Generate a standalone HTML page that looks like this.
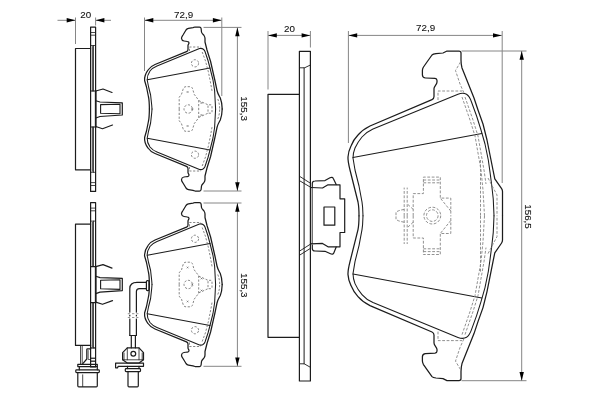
<!DOCTYPE html>
<html><head><meta charset="utf-8"><title>Brake pad drawing</title>
<style>
html,body{margin:0;padding:0;background:#fff;}
body{width:600px;height:400px;overflow:hidden;}
svg{display:block;filter:grayscale(1);}
text{font-family:"Liberation Sans",sans-serif;font-size:9.8px;fill:#111;stroke:#111;stroke-width:0.1px;}
</style></head><body>
<svg width="600" height="400" viewBox="0 0 600 400">
<rect width="600" height="400" fill="#fff"/>
<defs>
<g id="sh" fill="none" stroke="#1c1c1c" stroke-width="1.25" stroke-linejoin="round" stroke-linecap="round">
<path d="M149.4,109 C149.3,103 149,99 148.5,97 L146.5,87 L144.6,80.5 C144.3,77 145,74 148,70 C150,67 152,65.7 155,64.5 L186.5,51.7 C187.7,51.2 188,50.5 188,49.5 L188,45.5 C188,44.3 189,44 189,43 C189,42 188.5,41.5 187.5,41.5 L184,41 C182.5,40.8 181.7,40 181.5,38.5 C181.4,37 182.3,36 183,35 L186,30 C186.8,29 187.5,28.6 188.5,28.4 L193,27.6 L195,27 L199.5,27 C200.6,27 201,27.5 201.1,28.5 L201.5,32 C201.7,33.5 203.3,34.5 204,35.5 C204.7,36.5 205,37 205,38.5 L205,42 L207,50 L210.6,61.5 L214.8,80 L217,90.5 C217.8,94 219.2,96 220.3,98 C221.3,100.5 222,103 222.2,109"/>
<path d="M152,109 L151.7,105 L150.6,95 L148.6,87 L147.2,80 C147,77 148,74 150,71 C152,68.5 154,67.2 157,66 L199.5,48.6 C201,48.2 202,48.3 203,49 C204,49.8 204.6,50.5 205,51.5 L208,60.5 L209.6,66.5 L213,80 L214.6,90.5 L215.6,109" stroke-width="1.05"/>
<path d="M147.3,79.8 L210,68.1" stroke-width="1.05"/>
</g>
<g id="shd" fill="none" stroke="#666666" stroke-width="0.8" stroke-dasharray="2.2 1.6">
<path d="M202.2,52 L205.5,61 L208.4,72 L210.8,84 L212.2,92"/>
<path d="M217.8,99 C219,102 219.6,105 219.7,109"/>
<circle cx="195" cy="63.3" r="3.6"/>
<path d="M189.5,51 L189.5,47 L201,47"/>
<path d="M179.2,109 L179.2,97.3 L181.5,94.3 L183,89.5 C183.5,87.5 184.5,86.7 186,86.7 L190,86.7 C191.5,86.7 192.3,87.5 192.8,89.5 L194.2,94.3 L198.7,100.3 L198.7,109"/>
<path d="M198.7,100.6 L208,104.8"/>
</g>
<g id="spad">
<use href="#sh"/><use href="#sh" transform="translate(0,218) scale(1,-1)"/>
<use href="#shd"/><use href="#shd" transform="translate(0,218) scale(1,-1)"/>
<g fill="none" stroke="#666666" stroke-width="0.8" stroke-dasharray="2.2 1.6">
<circle cx="188.2" cy="109" r="4.2"/>
<rect x="208" y="104.8" width="4" height="8.4" rx="1"/>
</g>
<g stroke="#666666" stroke-width="0.7">
<path d="M186.8,91.2 l1.6,1.6 m0,-1.6 l-1.6,1.6 M186.8,125.2 l1.6,1.6 m0,-1.6 l-1.6,1.6 M200.7,102.2 l1.6,1.6 m0,-1.6 l-1.6,1.6 M200.7,114.2 l1.6,1.6 m0,-1.6 l-1.6,1.6 M191.5,108.2 l1.6,1.6 m0,-1.6 l-1.6,1.6" fill="none"/>
</g>
</g>
<g id="sside" fill="none" stroke="#1c1c1c" stroke-width="1.2" stroke-linejoin="round" stroke-linecap="round">
<path d="M90.6,48.5 L75.5,48.5 L75.5,169.8 L90.6,169.8"/>
<path d="M90.6,27.1 L95.6,27.1 L95.6,191.4 L90.6,191.4 Z"/>
<path d="M90.6,32.5 H95.6 M90.6,35.2 H95.6 M90.6,185.5 H95.6 M90.6,182.6 H95.6 M90.6,45.5 H95.6 M90.6,172.3 H95.6" stroke-width="0.8"/>
<path d="M92.4,46.5 L92.4,91 M93.5,45.5 L93.5,91 M92.4,127 L92.4,171.3 M93.5,127 L93.5,172.3" stroke-width="0.8"/>
<path d="M90.6,91 H95.6 M90.6,127 H95.6" />
<path d="M95.7,91 V127" stroke-width="1.7"/>
<path d="M95.8,91 L103,89 L112,92.5"/>
<path d="M95.8,126.5 L102.5,128.7 L112.5,125"/>
<path d="M95.8,100.7 L100,102 L122.3,102.8 L122.3,115 L100,116.5 L95.8,118"/>
<path d="M100.6,104.6 L120,104.2 L120,113.8 L100.6,113.2 Z" stroke-width="1.1"/>
</g>
</defs>
<use href="#spad"/>
<use href="#spad" transform="translate(0,175.5)"/>
<use href="#sside"/>
<use href="#sside" transform="translate(0,175.6)"/>
<line x1="57.50" y1="20.30" x2="75.50" y2="20.30" stroke="#868686" stroke-width="1.00" />
<polygon points="75.50,20.30 66.70,18.10 66.70,22.50" fill="#000"/>
<line x1="95.60" y1="20.30" x2="111.00" y2="20.30" stroke="#868686" stroke-width="1.00" />
<polygon points="95.60,20.30 104.40,18.10 104.40,22.50" fill="#000"/>
<line x1="75.50" y1="17.50" x2="75.50" y2="44.00" stroke="#868686" stroke-width="1.00" />
<line x1="95.60" y1="17.50" x2="95.60" y2="25.50" stroke="#868686" stroke-width="1.00" />
<text x="85.8" y="17.6" text-anchor="middle">20</text>
<line x1="144.50" y1="20.30" x2="221.70" y2="20.30" stroke="#868686" stroke-width="1.00" />
<polygon points="144.50,20.30 153.30,18.10 153.30,22.50" fill="#000"/>
<polygon points="221.70,20.30 212.90,18.10 212.90,22.50" fill="#000"/>
<line x1="144.50" y1="17.50" x2="144.50" y2="71.00" stroke="#868686" stroke-width="1.00" />
<line x1="221.80" y1="17.50" x2="221.80" y2="96.00" stroke="#868686" stroke-width="1.00" />
<text x="183.6" y="17.8" text-anchor="middle">72,9</text>
<line x1="203.50" y1="27.40" x2="241.50" y2="27.40" stroke="#868686" stroke-width="1.00" />
<line x1="203.50" y1="191.00" x2="241.50" y2="191.00" stroke="#868686" stroke-width="1.00" />
<line x1="237.40" y1="27.40" x2="237.40" y2="191.00" stroke="#868686" stroke-width="1.00" />
<polygon points="237.40,27.40 235.20,36.20 239.60,36.20" fill="#000"/>
<polygon points="237.40,191.00 235.20,182.20 239.60,182.20" fill="#000"/>
<text transform="translate(240.8,108.6) rotate(90)" text-anchor="middle">155,3</text>
<line x1="203.50" y1="203.00" x2="241.50" y2="203.00" stroke="#868686" stroke-width="1.00" />
<line x1="203.50" y1="366.30" x2="241.50" y2="366.30" stroke="#868686" stroke-width="1.00" />
<line x1="237.40" y1="203.00" x2="237.40" y2="366.30" stroke="#868686" stroke-width="1.00" />
<polygon points="237.40,203.00 235.20,211.80 239.60,211.80" fill="#000"/>
<polygon points="237.40,366.30 235.20,357.50 239.60,357.50" fill="#000"/>
<text transform="translate(240.8,285.3) rotate(90)" text-anchor="middle">155,3</text>
<g fill="none" stroke="#1c1c1c" stroke-width="1.2" stroke-linejoin="round" stroke-linecap="round">
<path d="M146.3,282.3 L137,282.3 C132,282.3 129.8,284.5 129.8,288.5 L129.8,335.5"/>
<path d="M146.3,288.6 L139.5,288.6 C137,288.6 136.4,289.5 136.4,291.5 L136.4,335.5"/>
<rect x="146.4" y="280.6" width="2.6" height="10" rx="1"/>
<path d="M129.8,335.5 H136.4"/>
<path d="M131.3,335.5 V347.8 M135.4,335.5 V347.8"/>
<path d="M127.3,347.8 H139 L143.5,352.6 V359.8 L139,363 H127.3 L122.6,359.8 V352.6 Z"/>
<path d="M127.3,347.8 V359.8 M139,347.8 V359.8 M122.6,359.8 H143.5 M124,353 V359.6 M142.2,353 V359.6" stroke-width="0.8"/>
<circle cx="133.3" cy="353.7" r="2.4"/>
<path d="M115.6,363.1 H143.5 V366.3 H118.2 L117.6,367.8 H115.6 Z"/>
<path d="M127.5,366.3 V368.6 M139,366.3 V368.6"/>
<rect x="125.3" y="368.6" width="15.2" height="3" rx="0.8"/>
<path d="M128,371.6 V385.7 Q128,386.8 129,386.8 H137.3 Q138.3,386.8 138.3,385.7 V371.6"/>
</g>
<rect x="127" y="312.6" width="12" height="2.2" fill="#fff"/>
<rect x="127" y="316.4" width="12" height="2.2" fill="#fff"/>
<path d="M127.8,313.7 h2.2 m2,0 h2.4 m2,0 h2 M127.8,317.5 h2.2 m2,0 h2.4 m2,0 h2" stroke="#666666" stroke-width="0.7" fill="none"/>
<g fill="none" stroke="#1c1c1c" stroke-width="1.2" stroke-linejoin="round" stroke-linecap="round">
<path d="M80.5,345.4 V364 M82.2,345.4 V364" stroke-width="0.8"/>
<path d="M90.6,348.8 H87.6 Q86.8,348.8 86.8,349.6 V359 L82.8,363.6"/>
<path d="M88.2,350.5 V359.5 H90.6" stroke-width="0.7"/>
<path d="M90.6,358.3 H95.6 M90.6,361.3 H95.6 M90.6,348 H95.6" stroke-width="0.8"/>
<path d="M77.8,364.3 H97.3 V366.6 H77.8 Z"/>
<path d="M79.3,366.6 V369.8 M97.3,366.6 V369.8"/>
<rect x="75.8" y="369.8" width="23.5" height="2.8" rx="0.8"/>
<path d="M77.8,372.6 V385.7 Q77.8,386.8 78.8,386.8 H96.3 Q97.3,386.8 97.3,385.7 V372.6"/>
<path d="M82.7,374.8 V386.5" stroke-width="0.8"/>
</g>
<g fill="none" stroke="#1c1c1c" stroke-width="1.2" stroke-linejoin="round" stroke-linecap="round">
<path d="M299.4,94.3 H268 V337.3 H299.4"/>
<path d="M299.4,51.3 H310.4 V381 H299.4 Z"/>
<path d="M299.4,67.8 H304.6 L310.4,65 M299.4,363.8 H304.2 L310.4,367.3" stroke-width="0.9"/>
<path d="M304.1,67.8 V363.8" stroke-width="1"/>
<path d="M299.4,176.2 L310.4,183.2 M299.4,180.6 L311,187.5 M299.4,255.3 L310.4,248.4 M299.4,251.2 L311,243.8" stroke-width="0.9"/>
<path d="M311,187.5 L322.5,188 L328,184.8 H340 V198.8 H344.7 V232.5 H340 V246.8 H328 L322.5,243.4 L311,243.8"/>
<path d="M312.3,186.5 V183.5 C312.3,181.5 313,181 315,181 L325,180.6 L330,177.8 C331.5,177 332.8,177.3 333.3,178.5 L336.2,184.5"/>
<path d="M312.3,245 V248.5 C312.3,250.5 313,251 315,251 L325,251.3 L330.5,253.8 C332,254.5 333.3,254.2 333.8,253 L336.2,247"/>
<path d="M312.2,187.5 V243.8" stroke-width="0.9"/>
<rect x="324" y="207" width="10.8" height="18.2" />
</g>
<line x1="268.00" y1="35.40" x2="310.40" y2="35.40" stroke="#868686" stroke-width="1.00" />
<polygon points="268.00,35.40 276.80,33.20 276.80,37.60" fill="#000"/>
<polygon points="310.40,35.40 301.60,33.20 301.60,37.60" fill="#000"/>
<line x1="268.00" y1="31.00" x2="268.00" y2="89.50" stroke="#868686" stroke-width="1.00" />
<line x1="310.40" y1="31.00" x2="310.40" y2="47.50" stroke="#868686" stroke-width="1.00" />
<text x="289.5" y="31.6" text-anchor="middle">20</text>
<defs>
<g id="bh" fill="none" stroke="#1c1c1c" stroke-width="1.25" stroke-linejoin="round" stroke-linecap="round">
<path d="M359,215.8 C359,210 358.6,205 358,202 L354,186 L350,170 C348.5,164 347.8,160 348,157 C348.3,152 349.5,149 351,146 C353,141 355,138 358,135 C361,131.5 365,128.5 370,126 L432,99.6 C433.5,99 434,98 434,96.5 L434,88.5 C434,86 437,84.5 437,82 L437,80.5 C437,79 436.3,78.5 435,78.4 L425.5,78 C423.5,77.9 422.5,76.5 422.4,75 L422.4,70.5 C422.4,69 423,68 423.5,67 L427,62 L432,55 C433,54 434.5,53.8 436,53.6 L443,53 L447,51 L459,51 C460.5,51 461,52 461,53 L461,60 C461,63 461.3,65.5 462,68 L466,78 L474,98 L478,110 L483,124 L487,140 L490.6,158 L493,170 L494.8,178.8 L501.6,188.6 C502.3,189.6 502.5,190.3 502.5,191.5 L502.5,215.8"/>
<path d="M363,215.8 L362.6,207 L362,202 L359,186 L355,170 L353,158 C353,154 353.8,151 355,148 C356.8,144 359,140.5 362,137 C365,133.5 369,130.8 373,129 L458,94.2 C461,93 464,92.8 466.5,94.3 C469,96 470.3,98.5 471.5,102 L476.6,116 L481,130 L485,144 L488.3,160 L490,172 L491.75,185.5 L493.25,199 L494,215.8" stroke-width="1.05"/>
<path d="M353,157.6 L481.8,133.6" stroke-width="1.05"/>
</g>
<g id="bhd" fill="none" stroke="#858585" stroke-width="0.9" stroke-dasharray="2.8 1.6">
<path d="M460.5,62 L455.5,70.5 L460,84 L464,93"/>
<path d="M462,97 L470,120 L475,136 L481,170 L483,190 L484.5,215.8"/>
<path d="M465,97 L473,120 L478,136 L484,170 L486,184"/>
<path d="M480.5,160 L480.5,215.8"/>
<path d="M488,178 L497,195 L497,215.8"/>
<path d="M438,100 L438,91 L462,91"/>
<path d="M413.2,215.8 V238 H423.4 V254.5 H440.3 V233.5 H450.8 V215.8 M423.4,248.8 H440.3 M423.4,251.6 H440.3"/>
<path d="M450.8,220.5 L440.3,233.5"/>
<path d="M404.2,215.8 V244 M407.2,215.8 V244 M413.2,222.2 L407.2,227.8"/>
<path d="M404.2,222.2 C400,221.5 397,220.5 396,219.2 L396,215.8"/>
</g>
</defs>
<use href="#bh"/><use href="#bh" transform="translate(0,431.6) scale(1,-1)"/>
<use href="#bhd" transform="translate(0,431.6) scale(1,-1)"/><use href="#bhd"/>
<g fill="none" stroke="#858585" stroke-width="0.9" stroke-dasharray="2.8 1.6">
<circle cx="432.3" cy="215.6" r="8.4"/><circle cx="432.3" cy="215.6" r="5.8"/>
</g>
<line x1="348.40" y1="35.40" x2="501.80" y2="35.40" stroke="#868686" stroke-width="1.00" />
<polygon points="348.40,35.40 357.20,33.20 357.20,37.60" fill="#000"/>
<polygon points="501.80,35.40 493.00,33.20 493.00,37.60" fill="#000"/>
<line x1="348.40" y1="31.00" x2="348.40" y2="143.00" stroke="#868686" stroke-width="1.00" />
<line x1="502.20" y1="31.00" x2="502.20" y2="183.00" stroke="#868686" stroke-width="1.00" />
<text x="425.6" y="31.2" text-anchor="middle">72,9</text>
<line x1="461.50" y1="51.00" x2="526.50" y2="51.00" stroke="#868686" stroke-width="1.00" />
<line x1="461.50" y1="380.70" x2="526.50" y2="380.70" stroke="#868686" stroke-width="1.00" />
<line x1="521.70" y1="51.00" x2="521.70" y2="380.70" stroke="#868686" stroke-width="1.00" />
<polygon points="521.70,51.00 519.50,59.80 523.90,59.80" fill="#000"/>
<polygon points="521.70,380.70 519.50,371.90 523.90,371.90" fill="#000"/>
<text transform="translate(524.8,216.5) rotate(90)" text-anchor="middle">156,5</text>
</svg>
</body></html>
